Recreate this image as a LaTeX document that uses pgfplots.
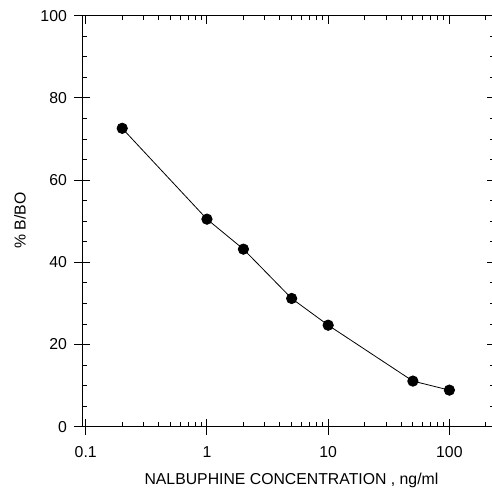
\documentclass[border=0pt]{standalone}
\usepackage{fontspec}
\setmainfont{Liberation Sans}
\usepackage{pgfplots}
\pgfplotsset{compat=1.18}

\begin{document}
\fontsize{15.8}{18}\selectfont
\begin{tikzpicture}
    % fixed page frame, in px of the reference
    \useasboundingbox (-82.3pt,-64.3pt) rectangle (409.7pt,426.7pt);
    \begin{axis}[
        at={(0,0)}, anchor=south west,
        scale only axis,
        width=412.5pt,
        height=411pt,
        xmode=log,
        xmin=0.0937, xmax=237,
        ymin=0, ymax=100,
        xtick={0.1,1,10,100},
        xticklabels={0.1,1,10,100},
        minor xtick={0.2,0.3,0.4,0.5,0.6,0.7,0.8,0.9,2,3,4,5,6,7,8,9,20,30,40,50,60,70,80,90,200},
        ytick={0,20,40,60,80,100},
        minor y tick num=3,
        tick pos=both,
        tick align=inside,
        major tick length=8pt,
        minor tick length=4.5pt,
        every tick/.style={black, line width=0.9pt},
        axis line style={black, line width=0.9pt},
        extra x ticks={0.1,1,10,100},
        extra x tick labels={},
        extra x tick style={tick align=outside, xtick pos=bottom},
        extra y ticks={0,20,40,60,80,100},
        extra y tick labels={},
        extra y tick style={tick align=outside, ytick pos=left},
        /pgf/number format/assume math mode=true,
        xticklabel style={anchor=base, yshift=-30.3pt},
        yticklabel style={anchor=east, xshift=-10pt},
        xlabel={NALBUPHINE CONCENTRATION , ng/ml},
        ylabel={\% B/BO},
        every axis x label/.style={at={(axis description cs:0.507,-0.1418)}, anchor=base},
        every axis y label/.style={at={(axis description cs:-0.1510,0.502)}, rotate=90, anchor=center},
    ]
        \addplot[black, line width=0.8pt, mark=*, mark size=5.2pt, mark options={fill=black}] coordinates {
            (0.2,72.6)
            (1,50.5)
            (2,43.2)
            (5,31.2)
            (10,24.7)
            (50,11.1)
            (100,8.9)
        };
    \end{axis}
\end{tikzpicture}
\end{document}
